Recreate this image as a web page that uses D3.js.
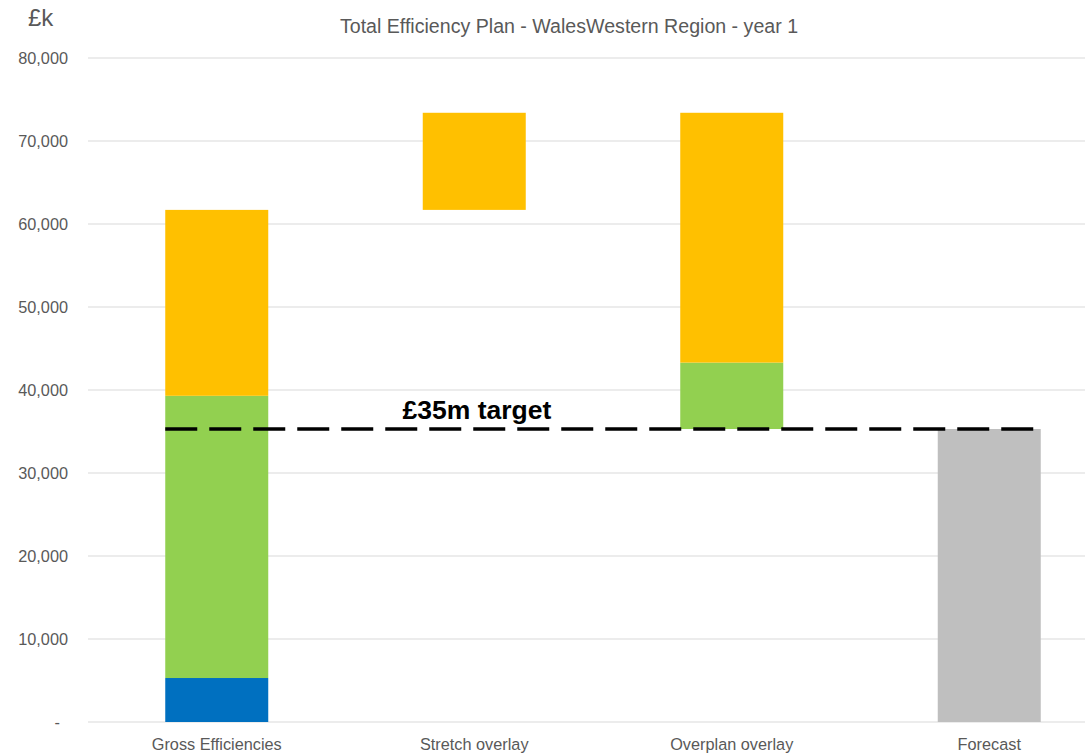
<!DOCTYPE html>
<html>
<head>
<meta charset="utf-8">
<script src="https://cdn.jsdelivr.net/npm/d3@7"></script>
<style>
  body { margin: 0; background: #fff; }
  svg { font-family: "Liberation Sans", Arial, sans-serif; }
</style>
</head>
<body>
<div id="chart"></div>
<script>
// data (£k)
var categories = ["Gross Efficiencies", "Stretch overlay", "Overplan overlay", "Forecast"];
var base     = [0, 61700, 35300, 0];   // invisible spacer
var blue     = [5300, 0, 0, 0];
var green    = [34000, 0, 8000, 0];
var yellow   = [22400, 11700, 30100, 0];
var forecast = [0, 0, 0, 35300];
var target = 35300;
var yTicks = [0, 10000, 20000, 30000, 40000, 50000, 60000, 70000, 80000];

var svgWidth = 1085, svgHeight = 756;
var margin = { top: 58, left: 88, bottom: 34 };
var width = 1030;
var height = svgHeight - margin.top - margin.bottom;

var svg = d3.select("#chart").append("svg")
  .attr("width", svgWidth)
  .attr("height", svgHeight);

var g = svg.append("g")
  .attr("transform", `translate(${margin.left}, ${margin.top})`);

var x = d3.scaleBand().domain(categories).range([0, width]).paddingInner(0.6).paddingOuter(0.3);
var y = d3.scaleLinear().domain([0, 80000]).range([height, 0]);

// gridlines
g.selectAll("line.grid")
  .data(yTicks)
  .enter().append("line")
  .attr("x1", 0).attr("x2", width)
  .attr("y1", d => y(d)).attr("y2", d => y(d))
  .attr("stroke", "#d9d9d9").attr("stroke-width", 1);

// y tick labels
g.selectAll("text.ytick")
  .data(yTicks)
  .enter().append("text")
  .attr("x", d => d === 0 ? -28 : -20)
  .attr("y", d => y(d))
  .attr("dy", "0.35em")
  .attr("text-anchor", "end")
  .attr("font-size", 16.3)
  .attr("fill", "#595959")
  .text(d => d === 0 ? "-" : d3.format(",")(d));

// stacked bars
var rows = categories.map((c, i) => ({
  cat: c, base: base[i], blue: blue[i], green: green[i], yellow: yellow[i], forecast: forecast[i]
}));
var keys = ["base", "blue", "green", "yellow", "forecast"];
var colors = { base: "none", blue: "#0070c0", green: "#92d050", yellow: "#ffc000", forecast: "#bfbfbf" };
var stacked = d3.stack().keys(keys)(rows);

g.selectAll("g.series")
  .data(stacked)
  .enter().append("g")
  .attr("fill", d => colors[d.key])
  .selectAll("rect")
  .data(d => d.filter(s => s[1] - s[0] > 0))
  .enter().append("rect")
  .attr("x", d => x(d.data.cat))
  .attr("width", x.bandwidth())
  .attr("y", d => y(d[1]))
  .attr("height", d => y(d[0]) - y(d[1]));

// target line
g.append("line")
  .attr("x1", x(categories[0]))
  .attr("x2", x(categories[3]) + x.bandwidth())
  .attr("y1", y(target)).attr("y2", y(target))
  .attr("stroke", "#000")
  .attr("stroke-width", 3.5)
  .attr("stroke-dasharray", "32,12");

g.append("text")
  .attr("x", 389)
  .attr("y", y(target) - 10)
  .attr("text-anchor", "middle")
  .attr("font-size", 26.5)
  .attr("font-weight", "bold")
  .attr("fill", "#000")
  .text("£35m target");

// category labels
g.selectAll("text.xlab")
  .data(categories)
  .enter().append("text")
  .attr("x", d => x(d) + x.bandwidth() / 2)
  .attr("y", height + 28)
  .attr("text-anchor", "middle")
  .attr("font-size", 16.3)
  .attr("fill", "#595959")
  .text(d => d);

// title and unit
svg.append("text")
  .attr("x", 569).attr("y", 33)
  .attr("text-anchor", "middle")
  .attr("font-size", 19.6)
  .attr("fill", "#595959")
  .text("Total Efficiency Plan - WalesWestern Region - year 1");

svg.append("text")
  .attr("x", 28).attr("y", 26)
  .attr("font-size", 24)
  .attr("fill", "#595959")
  .text("£k");
</script>
</body>
</html>
